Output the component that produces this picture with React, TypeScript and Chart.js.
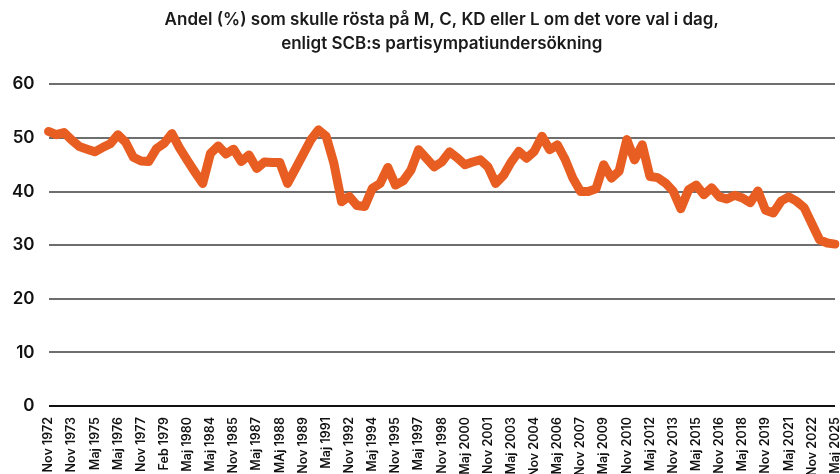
import React, { useEffect, useRef } from "react";
import { Chart, registerables } from "chart.js";

Chart.register(...registerables);

const TITLE_LINES = [
  "Andel (%) som skulle rösta på M, C, KD eller L om det vore val i dag,",
  "enligt SCB:s partisympatiundersökning",
];

const CATEGORIES = [
  "Nov 1972", "Feb 1973", "Maj 1973", "Nov 1973", "Maj 1974", "Nov 1974",
  "Maj 1975", "Nov 1975", "Feb 1976", "Maj 1976", "Nov 1976", "Maj 1977",
  "Nov 1977", "Maj 1978", "Nov 1978", "Feb 1979", "Maj 1979", "Nov 1979",
  "Maj 1980", "Maj 1982", "Maj 1983", "Maj 1984", "Nov 1984", "Maj 1985",
  "Nov 1985", "Maj 1986", "Nov 1986", "Maj 1987", "Nov 1987", "Feb 1988",
  "MAj 1988", "Nov 1988", "Maj 1989", "Nov 1989", "Maj 1990", "Nov 1990",
  "Maj 1991", "Nov 1991", "Maj 1992", "Nov 1992", "Maj 1993", "Nov 1993",
  "Maj 1994", "Nov 1994", "Maj 1995", "Nov 1995", "Maj 1996", "Nov 1996",
  "Maj 1997", "Nov 1997", "Maj 1998", "Nov 1998", "Maj 1999", "Nov 1999",
  "Maj 2000", "Nov 2000", "Maj 2001", "Nov 2001", "Maj 2002", "Nov 2002",
  "Maj 2003", "Nov 2003", "Maj 2004", "Nov 2004", "Maj 2005", "Nov 2005",
  "Maj 2006", "Nov 2006", "Maj 2007", "Nov 2007", "Maj 2008", "Nov 2008",
  "Maj 2009", "Nov 2009", "Maj 2010", "Nov 2010", "Maj 2011", "Nov 2011",
  "Maj 2012", "Nov 2012", "Maj 2013", "Nov 2013", "Maj 2014", "Nov 2014",
  "Maj 2015", "Nov 2015", "Maj 2016", "Nov 2016", "Maj 2017", "Nov 2017",
  "Maj 2018", "Nov 2018", "Maj 2019", "Nov 2019", "Maj 2020", "Nov 2020",
  "Maj 2021", "Nov 2021", "Maj 2022", "Nov 2022", "Nov 2023", "Nov 2024",
  "Maj 2025",
];

const SHARE_MCKDL = [
  51.2, 50.6, 51.0, 49.6, 48.4, 47.9, 47.4, 48.2, 48.9, 50.6,
  49.2, 46.4, 45.7, 45.6, 48.0, 49.0, 50.8, 48.1, 45.8, 43.6,
  41.5, 47.1, 48.5, 47.0, 47.9, 45.6, 46.8, 44.3, 45.5, 45.4,
  45.4, 41.5, 44.2, 46.9, 49.6, 51.5, 50.3, 45.3, 38.1, 39.1,
  37.4, 37.2, 40.6, 41.5, 44.5, 41.2, 42.0, 44.0, 47.8, 46.2,
  44.6, 45.5, 47.4, 46.3, 45.0, 45.5, 45.9, 44.6, 41.5, 43.0,
  45.5, 47.5, 46.2, 47.5, 50.3, 47.8, 48.7, 46.0, 42.5, 40.0,
  40.0, 40.5, 45.0, 42.5, 43.8, 49.7, 45.9, 48.7, 42.8, 42.6,
  41.6, 40.1, 36.8, 40.3, 41.2, 39.4, 40.7, 39.0, 38.6, 39.3,
  38.8, 37.9, 40.1, 36.5, 36.0, 38.2, 39.0, 38.2, 37.0, 34.0,
  31.0, 30.4, 30.2,
];

const Y_MIN = 0;
const Y_MAX = 60;
const Y_STEP = 10;
const LABEL_EVERY = 3;

export default function App() {
  const canvasRef = useRef<HTMLCanvasElement | null>(null);

  useEffect(() => {
    document.body.style.margin = "0";
    const canvas = canvasRef.current;
    if (!canvas) return;
    const chart = new Chart(canvas, {
      type: "line",
      data: {
        labels: CATEGORIES,
        datasets: [
          {
            data: SHARE_MCKDL,
            borderColor: "#e85e22",
            borderWidth: 9,
            borderCapStyle: "round",
            borderJoinStyle: "round",
            pointRadius: 0,
            pointHoverRadius: 0,
            tension: 0,
            fill: false,
          },
        ],
      },
      options: {
        animation: false,
        responsive: true,
        maintainAspectRatio: false,
        layout: { padding: { left: -2, right: 5, top: 0, bottom: -6 } },
        plugins: {
          legend: { display: false },
          tooltip: { enabled: false },
          title: {
            display: true,
            text: TITLE_LINES,
            fullSize: false,
            color: "#1a1a1a",
            font: { family: "Inter, 'Noto Sans', sans-serif", size: 17, weight: "600", lineHeight: 1.42 },
            padding: { top: 8, bottom: 28 },
          },
        },
        scales: {
          x: {
            offset: false,
            grid: { display: false },
            border: { display: false },
            afterFit: (scale: any) => {
              scale.paddingRight = 0;
              scale.paddingLeft = 0;
            },
            ticks: {
              autoSkip: false,
              minRotation: 90,
              maxRotation: 90,
              color: "#111",
              padding: 3,
              font: { family: "Inter, 'Noto Sans', sans-serif", size: 12.5, weight: "600" },
              callback: (_v: any, i: number) => (i % LABEL_EVERY === 0 ? CATEGORIES[i] : ""),
            },
          },
          y: {
            min: Y_MIN,
            max: Y_MAX,
            border: { display: false },
            grid: {
              drawTicks: false,
              lineWidth: 2,
              color: (ctx: any) => (ctx.tick && ctx.tick.value === 0 ? "#111" : "#6e6e6e"),
            },
            ticks: {
              stepSize: Y_STEP,
              color: "#111",
              padding: 14,
              font: { family: "Inter, 'Noto Sans', sans-serif", size: 17, weight: "600" },
            },
          },
        },
      },
    });
    return () => chart.destroy();
  }, []);

  return (
    <div style={{ width: 840, height: 474, position: "relative" }}>
      <canvas ref={canvasRef} />
    </div>
  );
}
